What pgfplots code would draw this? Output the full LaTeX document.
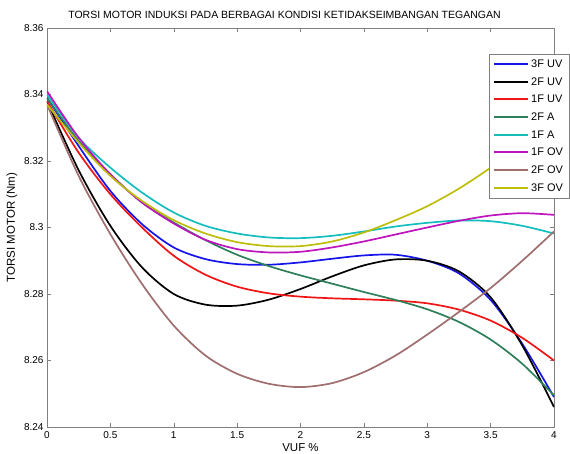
\documentclass[border=0pt]{standalone}
\usepackage{pgfplots}
\pgfplotsset{compat=1.18}
\usepackage{fontspec}
\setmainfont{Liberation Sans}
\definecolor{cBlue}{RGB}{20,20,235}
\definecolor{cRed}{RGB}{240,20,20}
\definecolor{cGreen}{RGB}{46,128,90}
\definecolor{cCyan}{RGB}{20,190,190}
\definecolor{cMag}{RGB}{190,20,190}
\definecolor{cBrown}{RGB}{160,110,110}
\definecolor{cYel}{RGB}{190,190,10}
\begin{document}
\begin{tikzpicture}
\begin{axis}[
  scale only axis,
  width=507pt, height=399pt,
  xmin=0, xmax=4, ymin=8.24, ymax=8.36,
  xtick={0,0.5,...,4},
  ytick={8.24,8.26,...,8.36},
  tick align=inside,
  major tick length=4pt,
  axis line style={gray},
  every tick/.style={gray},
  tick label style={font=\fontsize{10}{12}\selectfont},
  /pgf/number format/assume math mode=true,
  yticklabel style={/pgf/number format/fixed,/pgf/number format/precision=2},
  xticklabel style={/pgf/number format/fixed, yshift=-1pt},
  title={TORSI MOTOR INDUKSI PADA BERBAGAI KONDISI KETIDAKSEIMBANGAN TEGANGAN},
  title style={font=\fontsize{10.5}{12}\selectfont, yshift=0pt, xshift=-16pt},
  xlabel={VUF \%},
  ylabel={TORSI MOTOR (Nm)},
  label style={font=\fontsize{11.5}{13}\selectfont},
  xlabel style={yshift=2pt},
  ylabel style={yshift=0pt},
  legend style={at={(1.03,0.935)}, anchor=north east, draw=gray, fill=white,
    font=\fontsize{11}{13}\selectfont, row sep=4.6pt, inner xsep=4pt, inner ysep=3.5pt},
  legend cell align=left,
  legend image code/.code={\draw[#1, line width=2pt] (0cm,0.5pt) -- (1.2cm,0.5pt);},
  every axis plot/.append style={line width=1.7pt, smooth},
]
\addplot[cBlue, line width=1.7pt] coordinates {(0,8.339) (0.25,8.3245) (0.5,8.3110) (0.75,8.3010) (1,8.2940) (1.25,8.2905) (1.5,8.2890) (1.75,8.2888) (2,8.2895) (2.25,8.2906) (2.5,8.2916) (2.75,8.2918) (3,8.2900) (3.25,8.2862) (3.5,8.2782) (3.75,8.2650) (4,8.2490)};
\addlegendentry{3F UV}
\addplot[black, line width=1.7pt] coordinates {(0,8.338) (0.25,8.3172) (0.5,8.3005) (0.75,8.2880) (1,8.2800) (1.25,8.2768) (1.5,8.2765) (1.75,8.2783) (2,8.2815) (2.25,8.2853) (2.5,8.2886) (2.75,8.2904) (3,8.2900) (3.25,8.2868) (3.5,8.2790) (3.75,8.2645) (4,8.2460)};
\addlegendentry{2F UV}
\addplot[cRed, line width=1.7pt] coordinates {(0,8.338) (0.25,8.3225) (0.5,8.3100) (0.75,8.3000) (1,8.2915) (1.25,8.2858) (1.5,8.2822) (1.75,8.2802) (2,8.2792) (2.25,8.2787) (2.5,8.2784) (2.75,8.2780) (3,8.2772) (3.25,8.2753) (3.5,8.2720) (3.75,8.2668) (4,8.2600)};
\addlegendentry{1F UV}
\addplot[cGreen, line width=1.7pt] coordinates {(0,8.339) (0.25,8.3260) (0.5,8.3160) (0.75,8.3075) (1,8.3015) (1.25,8.2962) (1.5,8.2918) (1.75,8.2884) (2,8.2856) (2.25,8.2831) (2.5,8.2806) (2.75,8.2782) (3,8.2754) (3.25,8.2716) (3.5,8.2663) (3.75,8.2590) (4,8.2495)};
\addlegendentry{2F A}
\addplot[cCyan, line width=1.7pt] coordinates {(0,8.340) (0.25,8.3270) (0.5,8.3180) (0.75,8.3105) (1,8.3045) (1.25,8.3005) (1.5,8.2982) (1.75,8.2970) (2,8.2968) (2.25,8.2975) (2.5,8.2988) (2.75,8.3003) (3,8.3014) (3.25,8.3021) (3.5,8.3019) (3.75,8.3005) (4,8.2982)};
\addlegendentry{1F A}
\addplot[cMag, line width=1.7pt] coordinates {(0,8.341) (0.25,8.3270) (0.5,8.3160) (0.75,8.3075) (1,8.3012) (1.25,8.2963) (1.5,8.2935) (1.75,8.2925) (2,8.2927) (2.25,8.2940) (2.5,8.2958) (2.75,8.2979) (3,8.3000) (3.25,8.3020) (3.5,8.3036) (3.75,8.3043) (4,8.3038)};
\addlegendentry{1F OV}
\addplot[cBrown, line width=1.7pt] coordinates {(0,8.337) (0.25,8.3155) (0.5,8.2980) (0.75,8.2830) (1,8.2705) (1.25,8.2615) (1.5,8.2560) (1.75,8.2530) (2,8.2520) (2.25,8.2532) (2.5,8.2565) (2.75,8.2615) (3,8.2678) (3.25,8.2746) (3.5,8.2818) (3.75,8.2900) (4,8.2988)};
\addlegendentry{2F OV}
\addplot[cYel, line width=1.7pt] coordinates {(0,8.337) (0.25,8.3255) (0.5,8.3155) (0.75,8.3080) (1,8.3022) (1.25,8.2982) (1.5,8.2956) (1.75,8.2944) (2,8.2944) (2.25,8.2958) (2.5,8.2985) (2.75,8.3022) (3,8.3064) (3.25,8.3117) (3.5,8.3180) (3.75,8.3252) (4,8.3335)};
\addlegendentry{3F OV}
\end{axis}
\pgfresetboundingbox
\path ([xshift=-47pt,yshift=-27pt]current axis.south west) rectangle ([xshift=16pt,yshift=28pt]current axis.north east);
\end{tikzpicture}
\end{document}
